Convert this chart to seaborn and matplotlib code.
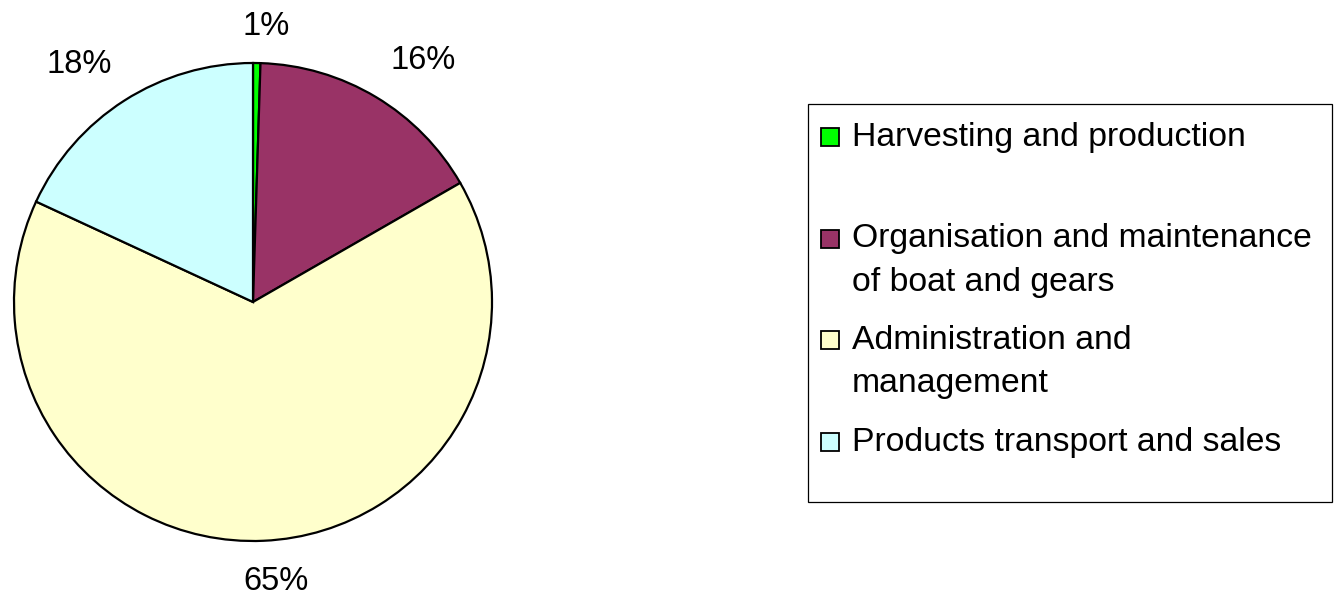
import numpy as np
import matplotlib
matplotlib.use("Agg")
import matplotlib.pyplot as plt
from matplotlib.patches import Rectangle
import seaborn as sns

# ---- data ----
categories = ["Harvesting and production",
              "Organisation and maintenance of boat and gears",
              "Administration and management",
              "Products transport and sales"]
legend_lines = [["Harvesting and production", ""],
                ["Organisation and maintenance", "of boat and gears"],
                ["Administration and", "management"],
                ["Products transport and sales"]]
shares = [0.5, 16.2, 65.2, 18.1]
pct_labels = ["1%", "16%", "65%", "18%"]
colors = ["#00FF00", "#993366", "#FFFFCC", "#CCFFFF"]

sns.set_style("white")
plt.rcParams['font.family'] = ['Liberation Sans', 'DejaVu Sans']

W, H = 1334, 597
fig = plt.figure(figsize=(W / 100, H / 100), dpi=100)
fig.patch.set_facecolor("white")

cx, cy, r = 253, 302, 239
ax = fig.add_axes([(cx - r) / W, (H - cy - r) / H, 2 * r / W, 2 * r / H])
wedges, _ = ax.pie(shares, colors=colors, startangle=90, counterclock=False,
                   radius=1.0,
                   wedgeprops=dict(edgecolor="black", linewidth=1.6))
ax.set_xlim(-1, 1)
ax.set_ylim(-1, 1)
ax.set_aspect("equal")
ax.axis("off")

FS = 23.5
# label placement (radial distance, angular nudge in degrees) per slice
label_dist = [1.154, 1.236, 1.173, 1.232]
label_nudge = [-1.8, -4.25, 2.15, 3.5]
for w, lab, d, dn in zip(wedges, pct_labels, label_dist, label_nudge):
    ang = np.deg2rad((w.theta1 + w.theta2) / 2 + dn)
    ax.text(d * np.cos(ang), d * np.sin(ang), lab, ha="center", va="center",
            fontsize=FS, color="black", clip_on=False)

# ---- legend (drawn manually in pixel coordinates) ----
def px(x, y):
    return x / W, 1 - y / H

lx0, ly0, lx1, ly1 = 808, 104, 1332, 502
fig.patches.append(Rectangle(px(lx0, ly1), (lx1 - lx0) / W, (ly1 - ly0) / H,
                             transform=fig.transFigure, facecolor="white",
                             edgecolor="black", linewidth=0.9))
base0, step, lstep = 146, 101.5, 43
LFS = 24.3
for i, (lines, col) in enumerate(zip(legend_lines, colors)):
    b = base0 + step * i
    sq = 18
    fig.patches.append(Rectangle(px(821, b), sq / W, sq / H,
                                 transform=fig.transFigure, facecolor=col,
                                 edgecolor="black", linewidth=1.3))
    for j, line in enumerate(lines):
        if line:
            x, y = px(852, b + j * lstep)
            fig.text(x, y, line, ha="left", va="baseline", fontsize=LFS,
                     color="black")

fig.savefig("out.png", dpi=100, facecolor="white")
